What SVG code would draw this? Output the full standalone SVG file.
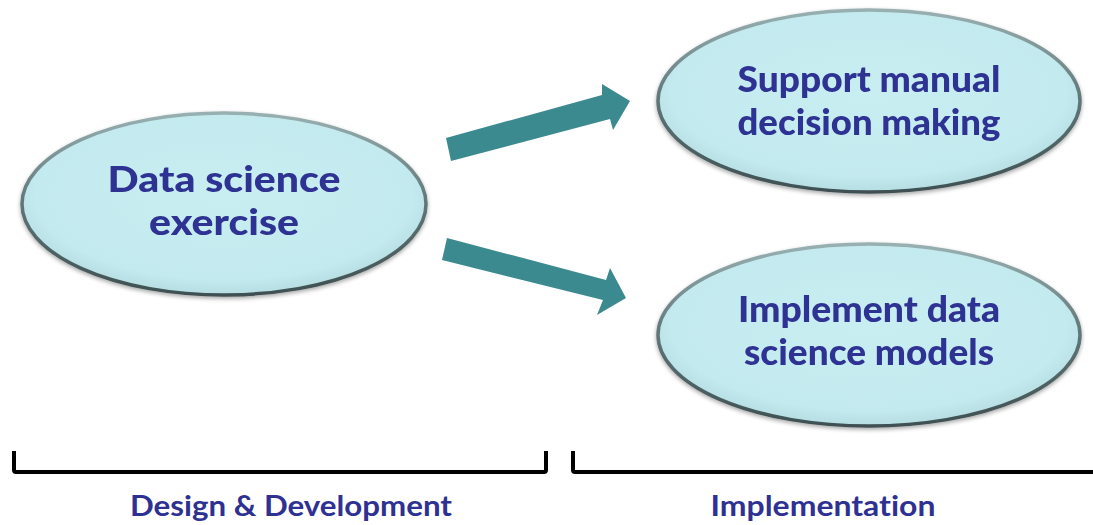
<svg xmlns="http://www.w3.org/2000/svg" width="1093" height="525" viewBox="0 0 1093 525">
<defs>
<radialGradient id="fillG" cx="50%" cy="45%" r="55%">
<stop offset="0" stop-color="#c8eef2"/>
<stop offset="0.85" stop-color="#c3eaee"/>
<stop offset="1" stop-color="#b5dde2"/>
</radialGradient>
<linearGradient id="strokeG" x1="0" y1="0" x2="0" y2="1">
<stop offset="0" stop-color="#98b0b2"/>
<stop offset="0.5" stop-color="#5f7577"/>
<stop offset="1" stop-color="#3f5052"/>
</linearGradient>
<filter id="sh" x="-10%" y="-10%" width="120%" height="130%">
<feGaussianBlur in="SourceAlpha" stdDeviation="2"/>
<feOffset dx="0" dy="2" result="b"/>
<feComponentTransfer><feFuncA type="linear" slope="0.35"/></feComponentTransfer>
<feMerge><feMergeNode/><feMergeNode in="SourceGraphic"/></feMerge>
</filter>
</defs>
<style>
.node ellipse{fill:url(#fillG);stroke:url(#strokeG);stroke-width:3.5}
.t{font-family:Lato,"Liberation Sans",sans-serif;font-weight:900;font-size:36px;fill:#2e3192;text-anchor:middle;font-variant-ligatures:none}
.lbl{font-family:Lato,"Liberation Sans",sans-serif;font-weight:bold;font-size:28px;fill:#2e3192;text-anchor:middle;font-variant-ligatures:none}
.arrow{fill:#3b8a8f}
.br{fill:none;stroke:#000;stroke-width:4;stroke-linejoin:round}
</style>
<g id="n1" class="node" filter="url(#sh)">
<ellipse cx="224" cy="204" rx="202" ry="91"/>
<text class="t" x="224" y="192" textLength="233" lengthAdjust="spacingAndGlyphs">Data science</text>
<text class="t" x="224" y="235" textLength="150" lengthAdjust="spacingAndGlyphs">exercise</text>
</g>
<g id="n2" class="node" filter="url(#sh)">
<ellipse cx="869" cy="101" rx="211" ry="91"/>
<text class="t" x="869" y="92" textLength="263" lengthAdjust="spacingAndGlyphs">Support manual</text>
<text class="t" x="869" y="135" textLength="263" lengthAdjust="spacingAndGlyphs">decision making</text>
</g>
<g id="n3" class="node" filter="url(#sh)">
<ellipse cx="869" cy="335" rx="211" ry="91"/>
<text class="t" x="869" y="322" textLength="262" lengthAdjust="spacingAndGlyphs">Implement data</text>
<text class="t" x="869" y="365" textLength="250" lengthAdjust="spacingAndGlyphs">science models</text>
</g>
<g id="connectors">
<polygon class="arrow" points="446,138 602,95 602,84 630,101 613,130 610,119 451,161"/>
<polygon class="arrow" points="447,238 606,280 610,268 626,298 597,315 603,300 442,260"/>
</g>
<g id="phases">
<path class="br" d="M14,451 V470 Q14,472 16,472 H544 Q546,472 546,470 V451"/>
<path class="br" d="M573,451 V470 Q573,472 575,472 H1095"/>
<text class="lbl" x="291" y="516" textLength="322" lengthAdjust="spacingAndGlyphs">Design &amp; Development</text>
<text class="lbl" x="823" y="516" textLength="225" lengthAdjust="spacingAndGlyphs">Implementation</text>
</g>
</svg>
